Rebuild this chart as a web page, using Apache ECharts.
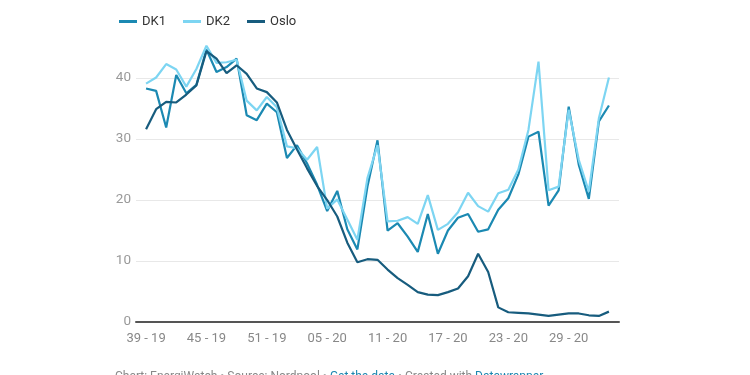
<!DOCTYPE html>
<html>
<head>
<meta charset="utf-8">
<script src="https://cdn.jsdelivr.net/npm/echarts@6/dist/echarts.min.js"></script>
<style>
  html, body { margin: 0; padding: 0; background: #fff; }
  #chart { width: 750px; height: 375px; }
</style>
</head>
<body>
<div id="chart"></div>
<script>
// Weeks (week - year), 39-19 .. 33-20
const weeks = [
  "39 - 19", "40 - 19", "41 - 19", "42 - 19", "43 - 19", "44 - 19", "45 - 19", "46 - 19",
  "47 - 19", "48 - 19", "49 - 19", "50 - 19", "51 - 19", "52 - 19", "01 - 20", "02 - 20",
  "03 - 20", "04 - 20", "05 - 20", "06 - 20", "07 - 20", "08 - 20", "09 - 20", "10 - 20",
  "11 - 20", "12 - 20", "13 - 20", "14 - 20", "15 - 20", "16 - 20", "17 - 20", "18 - 20",
  "19 - 20", "20 - 20", "21 - 20", "22 - 20", "23 - 20", "24 - 20", "25 - 20", "26 - 20",
  "27 - 20", "28 - 20", "29 - 20", "30 - 20", "31 - 20", "32 - 20", "33 - 20"
];

const dk1 = [
  38.3, 37.9, 31.9, 40.5, 37.5, 38.9, 44.7, 41.0, 41.8, 43.2, 33.9, 33.1,
  35.8, 34.4, 26.9, 29.0, 26.0, 22.5, 18.2, 21.5, 15.2, 11.9, 22.2, 29.8,
  15.0, 16.2, 14.0, 11.5, 17.7, 11.2, 15.0, 17.1, 17.7, 14.8, 15.2, 18.4,
  20.3, 24.2, 30.4, 31.2, 19.1, 21.6, 35.3, 25.8, 20.2, 32.9, 35.5
];

const dk2 = [
  39.1, 40.1, 42.3, 41.4, 38.6, 41.5, 45.3, 42.5, 42.6, 43.0, 36.3, 34.7,
  36.9, 35.2, 28.8, 28.5, 26.6, 28.7, 18.6, 20.1, 16.8, 13.5, 23.6, 29.0,
  16.5, 16.6, 17.2, 16.1, 20.8, 15.1, 16.1, 18.0, 21.2, 19.0, 18.1, 21.1,
  21.7, 25.0, 31.5, 42.7, 21.6, 22.2, 34.8, 26.6, 21.4, 33.4, 40.1
];

const oslo = [
  31.6, 34.9, 36.1, 36.0, 37.3, 38.8, 44.4, 43.2, 40.8, 42.1, 40.7, 38.3,
  37.7, 36.0, 31.5, 28.3, 25.2, 22.3, 20.0, 17.3, 13.0, 9.8, 10.3, 10.2,
  8.6, 7.2, 6.1, 4.9, 4.5, 4.4, 4.9, 5.5, 7.5, 11.2, 8.2, 2.4,
  1.6, 1.5, 1.4, 1.2, 1.0, 1.2, 1.4, 1.4, 1.1, 1.0, 1.7
];

const labelWeeks = [0, 6, 12, 18, 24, 30, 36, 42];
const yTicks = [0, 10, 20, 30, 40];

const colors = { DK1: "#1b89b2", DK2: "#7dd5f2", Oslo: "#175c7e" };

const chart = echarts.init(document.getElementById("chart"));

const toPoints = (values) => values.map((v, i) => [i, v]);

const series = [
  { name: "DK1", values: dk1 },
  { name: "DK2", values: dk2 },
  { name: "Oslo", values: oslo },
].map((s) => ({
  name: s.name,
  type: "line",
  data: toPoints(s.values),
  showSymbol: false,
  symbol: "none",
  lineStyle: { width: 2.2, color: colors[s.name] },
  itemStyle: { color: colors[s.name] },
  emphasis: { disabled: true },
}));

chart.setOption({
  animation: false,
  textStyle: { fontFamily: "Roboto, sans-serif" },
  legend: {
    left: 114,
    top: 10,
    itemWidth: 18,
    itemHeight: 3,
    itemGap: 17,
    icon: "rect",
    textStyle: { fontSize: 13, color: "#333", fontFamily: "Roboto" },
    data: ["DK1", "DK2", "Oslo"],
  },
  grid: { left: 136, right: 131, top: 41.5, bottom: 53 },
  xAxis: {
    type: "value",
    min: -1,
    max: 47,
    splitLine: { show: false },
    axisTick: { show: false },
    axisLine: { show: true, lineStyle: { color: "#555", width: 2 } },
    axisLabel: {
      customValues: labelWeeks,
      formatter: (v) => weeks[v] || "",
      color: "#888",
      fontSize: 13,
      margin: 10,
    },
  },
  yAxis: {
    type: "value",
    min: 0,
    max: 46,
    interval: 10,
    axisLine: { show: false },
    axisTick: { show: false },
    axisLabel: {
      customValues: yTicks,
      color: "#999",
      fontSize: 13.5,
      margin: 5,
    },
    splitLine: {
      show: true,
      showMaxLine: false,
      lineStyle: { color: "#e8e8e8", width: 1 },
    },
  },
  graphic: [
    {
      type: "text",
      left: 115,
      top: 371,
      style: {
        text: "{g|Chart: EnergiWatch • Source: Nordpool • }{b|Get the data}{g| • Created with }{b|Datawrapper}",
        rich: {
          g: { fill: "#888", fontSize: 12, fontFamily: "Roboto" },
          b: { fill: "#1d86b0", fontSize: 12, fontFamily: "Roboto" },
        },
      },
    },
  ],
  series,
});
</script>
</body>
</html>
